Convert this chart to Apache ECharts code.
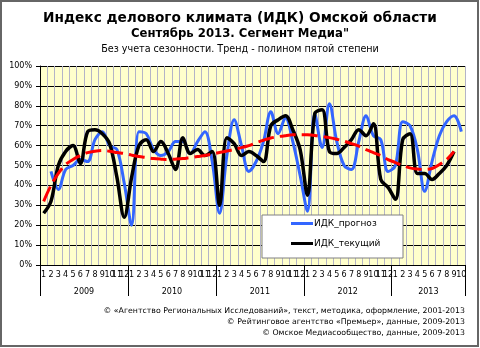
<!DOCTYPE html>
<html><head><meta charset="utf-8">
<script src="https://cdn.jsdelivr.net/npm/echarts@6/dist/echarts.min.js"></script>
<style>html,body{margin:0;padding:0;background:#fff}#c{width:480px;height:348px}</style>
</head><body><div id="c"></div>
<script>
const months = ['1','2','3','4','5','6','7','8','9','10','11','12',
  '1','2','3','4','5','6','7','8','9','10','11','12',
  '1','2','3','4','5','6','7','8','9','10','11','12',
  '1','2','3','4','5','6','7','8','9','10','11','12',
  '1','2','3','4','5','6','7','8','9','10'];
const years = ['2009','2010','2011','2012','2013'];
const monthsPerYear = [12,12,12,12,10];
const yTicks = [0,10,20,30,40,50,60,70,80,90,100];
// ИДК_прогноз (forecast), %
const forecast = [null,47,38,48,50,53,52,63,67,60,58,41,
  20,67,66,58,55,57,62,62,56,62,67,52,
  26,55,73,60,47,52,62,77,66,74,62,45,
  27,76,59,81,62,50,48,62,75,65,63,47,
  50,72,70,58,37,52,65,72,75,67];
// ИДК_текущий (current), %
const current = [26,32,50,57,60,51,67,68,66,61,44,24,
  44,60,63,57,62,56,48,64,56,58,55,57,
  30,64,61,55,57,55,52,70,73,75,68,58,
  35,76,78,57,56,59,63,68,65,71,43,39,
  33,63,66,46,46,43,46,50,57,null];
// Тренд - полином пятой степени, %
const trend = [32,40,46,50.5,53,55,56.5,57.2,57.5,57.2,56.5,56,
  55.2,54.5,54,53.5,53.2,53,53.2,53.5,54,54.5,55,55.7,
  56.5,57.3,58,59,60,61.5,62.7,63.8,64.5,65,65.4,65.5,
  65.4,65.1,64.6,64,63.2,62.2,61,59.7,58,56.5,55,53,
  51.5,50,48.8,48.2,48,48.5,50.5,53,57,null];
const copyrights = [
  '© «Агентство Региональных Исследований», текст, методика, оформление, 2001-2013',
  '© Рейтинговое агентство «Премьер», данные, 2009-2013',
  '© Омское Медиасообщество, данные, 2009-2013'];

const yearStarts = [0]; monthsPerYear.forEach((m,i)=>yearStarts.push(yearStarts[i]+m));
const yearCenters = monthsPerYear.map((m,i)=>yearStarts[i]+m/2);

const chart = echarts.init(document.getElementById('c'));
const F = 'DejaVu Sans';
chart.setOption({
  animation:false,
  backgroundColor:'#fff',
  title:[
    {text:'Индекс делового климата (ИДК) Омской области', left:'center', top:6,
     textStyle:{fontFamily:F, fontSize:13.7, fontWeight:'bold', color:'#000'}},
    {text:'Сентябрь 2013. Сегмент Медиа"', left:'center', top:23,
     textStyle:{fontFamily:F, fontSize:11.7, fontWeight:'bold', color:'#000'}},
    {text:'Без учета сезонности. Тренд - полином пятой степени', left:'center', top:39,
     textStyle:{fontFamily:F, fontSize:9.6, fontWeight:'normal', color:'#000'}}
  ],
  grid:{left:40, right:15, top:66, bottom:83, show:true, backgroundColor:'#FFFFCC', borderWidth:0},
  legend:{orient:'vertical', left:291, top:219, padding:0, itemGap:11, itemWidth:22, itemHeight:3,
    icon:'rect', textStyle:{fontFamily:F, fontSize:9, color:'#000', padding:[0,0,0,-4]},
    data:['ИДК_прогноз','ИДК_текущий']},
  xAxis:[
    {type:'category', data:months, boundaryGap:true,
     axisLine:{lineStyle:{color:'#000', width:1}},
     axisTick:{show:false},
     axisLabel:{interval:0, hideOverlap:false, fontFamily:F, fontSize:8, color:'#000', margin:6},
     splitLine:{show:true, interval:0, lineStyle:{color:'#B4B4C8', width:1}}},
    {type:'value', min:0, max:months.length, position:'bottom',
     axisLine:{show:false}, splitLine:{show:false},
     axisTick:{show:true, inside:false, length:31, customValues:yearStarts, lineStyle:{color:'#000', width:1}},
     axisLabel:{customValues:yearCenters, fontFamily:F, fontSize:8, color:'#000', margin:23,
       formatter:(v)=>years[yearCenters.indexOf(v)] || ''}}
  ],
  yAxis:{type:'value', min:0, max:100, interval:10,
    axisLine:{show:true, lineStyle:{color:'#000'}},
    axisTick:{show:true, length:4, lineStyle:{color:'#000'}},
    axisLabel:{formatter:'{value}%', fontFamily:F, fontSize:8, color:'#000', margin:8},
    splitLine:{show:true, lineStyle:{color:'#000', width:1}}},
  series:[
    {name:'ИДК_прогноз', type:'line', data:forecast, smooth:0.35, symbol:'none', connectNulls:false,
     itemStyle:{color:'#3366FF'}, lineStyle:{color:'#3366FF', width:3}},
    {name:'ИДК_текущий', type:'line', data:current, smooth:0.35, symbol:'none',
     itemStyle:{color:'#000'}, lineStyle:{color:'#000', width:3.5}},
    {name:'Тренд', type:'line', data:trend, smooth:0.35, symbol:'none',
     itemStyle:{color:'#FF0000'}, lineStyle:{color:'#FF0000', width:3, type:[16,6]}}
  ],
  graphic:[
    {type:'rect', z:-1, shape:{x:1, y:1, width:477, height:345}, style:{fill:'none', stroke:'#666', lineWidth:2}},
    {type:'rect', z:3, shape:{x:262, y:215, width:141, height:43}, style:{fill:'#fff', stroke:'#808080', lineWidth:1}},
    {type:'text', right:15, top:307, style:{text:copyrights[0], font:'7.8px "DejaVu Sans"', fill:'#000', textAlign:'right'}},
    {type:'text', right:15, top:318, style:{text:copyrights[1], font:'7.8px "DejaVu Sans"', fill:'#000', textAlign:'right'}},
    {type:'text', right:15, top:329, style:{text:copyrights[2], font:'7.8px "DejaVu Sans"', fill:'#000', textAlign:'right'}}
  ]
});
</script></body></html>
